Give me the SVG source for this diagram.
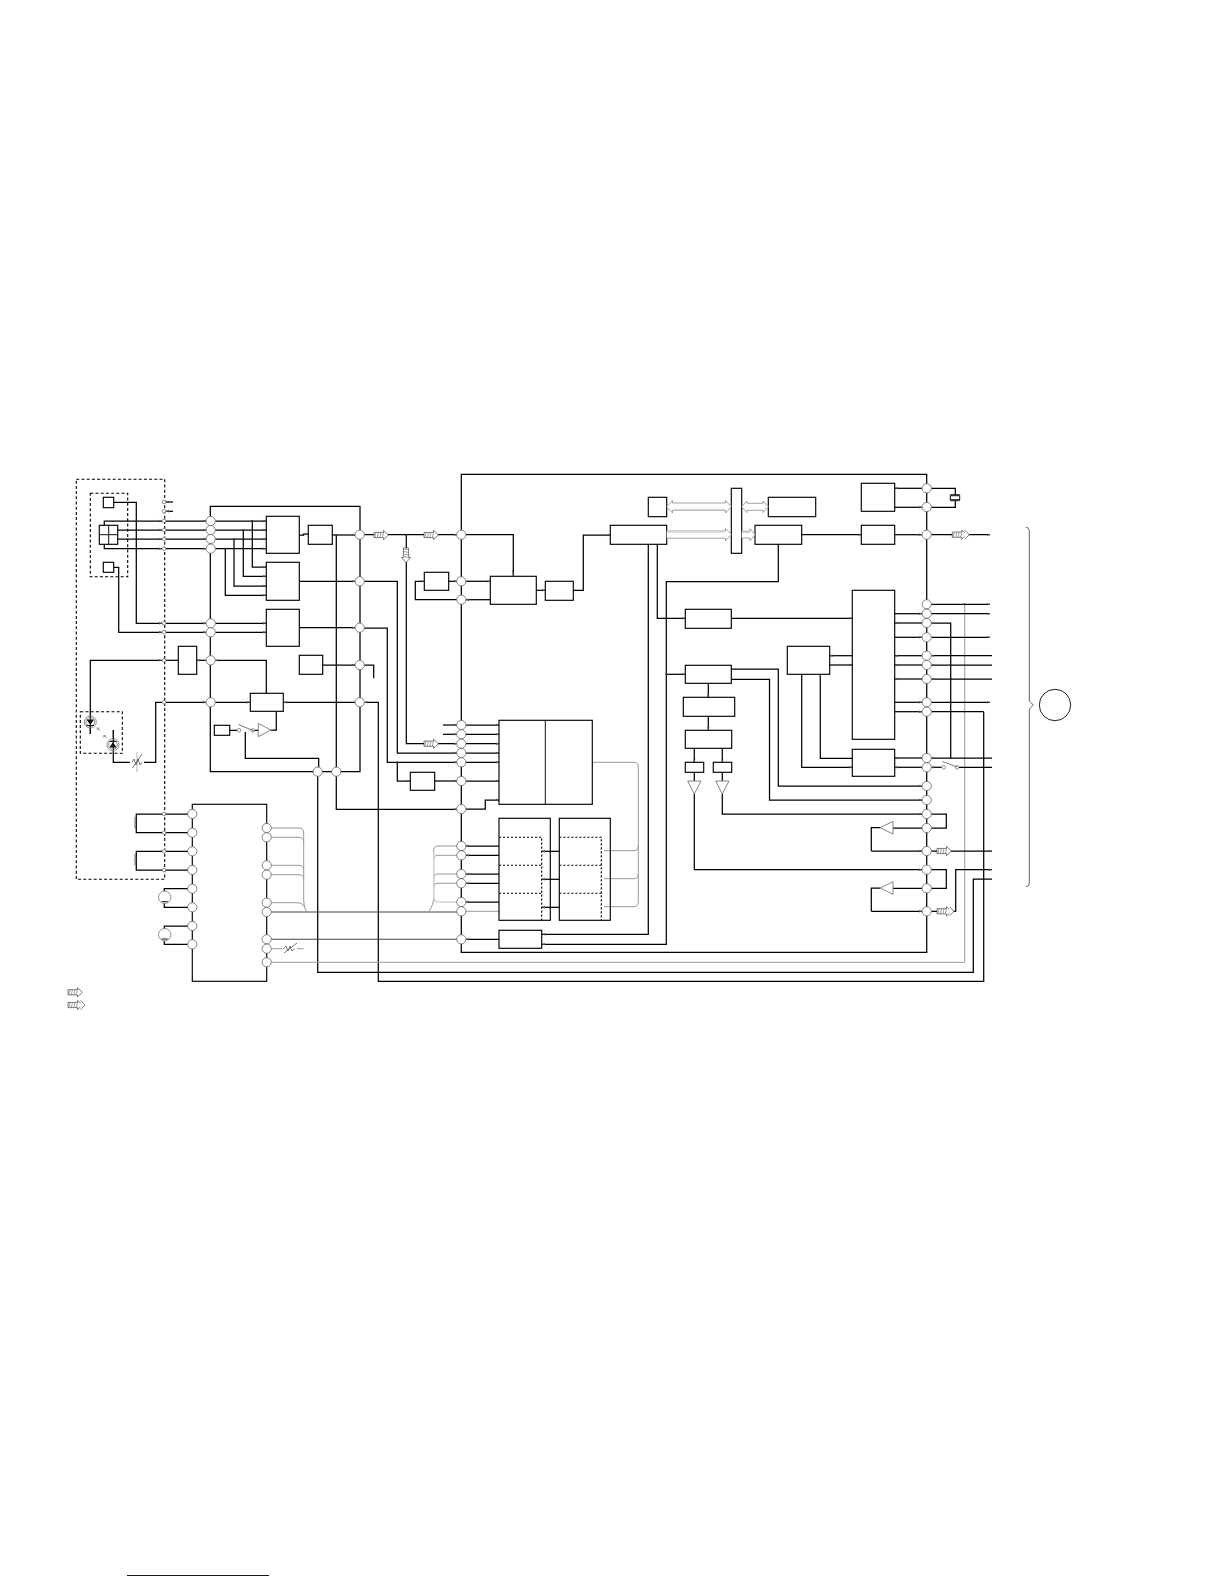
<svg xmlns="http://www.w3.org/2000/svg" xmlns:xlink="http://www.w3.org/1999/xlink" width="1224" height="1584" viewBox="0 0 1224 1584">
<style>
rect.b{fill:none;stroke:#000;stroke-width:1.15}
path{fill:none}
.c path{stroke:#000;stroke-width:1.25}
.c path.ar{marker-end:url(#a)}
.c path.g{stroke:#999;stroke-width:1}
.c path.dg{stroke:#444;stroke-width:1.1}
.c path.lg{stroke:#d4d4d4;stroke-width:1.6}
circle.p{fill:#fff;stroke:#666;stroke-width:.8}
circle.s{fill:#fff;stroke:#666;stroke-width:.7}
circle.d{fill:#333}
.ds{stroke:#000;stroke-width:1.1;stroke-dasharray:3 2.2;fill:none}
.ds2{stroke:#000;stroke-width:1.1;stroke-dasharray:2.2 1.8;fill:none}
.tri{fill:#fff;stroke:#777;stroke-width:.9}
.ga{fill:#fff;stroke:#999;stroke-width:.9}
.th{stroke:#111;stroke-width:1;fill:none}
.lt{stroke:#555;stroke-width:.8;fill:none}
.ha{fill:#fff;stroke:#444;stroke-width:.7}
.hat{stroke:#777;stroke-width:.7;fill:none}
</style>
<defs>
<marker id="a" markerUnits="userSpaceOnUse" markerWidth="4" markerHeight="4" refX="3" refY="2" orient="auto"><path d="M0 .8L3 2L0 3.2z" style="fill:#555;stroke:none"/></marker>
<g id="ha1"><path class="ha" d="M0-2.6H9.5V-4.6L14.5 0L9.5 4.6V2.6H0z"/><path class="hat" d="M2-2.6L.8 2.6M4.5-2.6L3.3 2.6M7-2.6L5.8 2.6M9.5-2.6L8.3 2.6"/></g>
<g id="ha2"><use xlink:href="#ha1"/><path class="ha" d="M12.5-4.6L17 0L12.5 4.6"/></g>
</defs>

<g id="connectors" class="c">
<path class="ar" d="M113.7 502.3H136.3V623.3H162"/><path class="ar" d="M166 623.3H206"/><path class="ar" d="M215.3 623.3H266"/>
<path class="ar" d="M113.7 567.3H118.7V632.3H162"/><path class="ar" d="M166 632.3H206"/><path class="ar" d="M215.3 632.3H266"/>
<path class="ar" d="M173 502H166"/><path class="ar" d="M173 511.3H166"/>
<path class="ar" d="M104.3 525.3V521H162"/><path class="ar" d="M166 521H206"/><path class="ar" d="M215.3 521H266"/>
<path class="ar" d="M117.7 530H162"/><path class="ar" d="M166 530H206"/><path class="ar" d="M215.3 530H266"/>
<path class="ar" d="M117.7 539H162"/><path class="ar" d="M166 539H206"/><path class="ar" d="M215.3 539H266"/>
<path class="ar" d="M104.3 544.3V548.7H162"/><path class="ar" d="M166 548.7H206"/><path class="ar" d="M215.3 548.7H266"/>
<path class="ar" d="M252.3 521V567H266"/><path class="ar" d="M243.3 530V576.3H266"/><path class="ar" d="M234 539V586H266"/><path class="ar" d="M225.3 548.7V595.3H266"/>
<path class="ar" d="M299.3 535H303.5V534H308"/><path class="ar" d="M332.3 535H355"/>
<path class="ar" d="M336.3 535V809.3H457"/>
<path class="ar" d="M299.3 581.3H355"/><path class="ar" d="M299.3 627.7H355"/><path class="ar" d="M322.7 665H355"/>
<path d="M364.3 665H373.7V678.3"/>
<path d="M210.3 521V771.7H360V506.3H210.3V521"/>
<path class="ar" d="M90.3 716V660.3H162"/><path d="M90.3 716V734"/>
<path d="M166 660.3H178.3"/><path class="ar" d="M206 660.3H197"/>
<path class="ar" d="M266.3 693.3V660.3H215.3"/>
<path d="M113.3 750V762.3H130M144 762.3H155.7V702.3H162"/><path d="M113.3 730V750"/>
<path class="ar" d="M166 702.3H206"/><path class="ar" d="M215.3 702.3H250"/>
<path class="ar" d="M355 702.3H283.6"/>
<path class="ar" d="M983.7 711.7V981.3H378.3V702.3H364.6"/>
<path d="M992 879H973.3V972.3H317.7V771.7"/>
<path class="g" d="M271.3 962.3H964.7V604.3"/>
<path d="M229.7 730.3H237M254.5 730.3H258.3M270.7 730H276.3V712"/>
<path d="M245.3 732V758.3H318.7V767"/>
<path d="M461.3 474.3H926.7V952.3H461.3z"/>
<path class="ar" d="M364.3 534.7H457"/>
<path d="M465.9 534.7H513.3V572"/>
<path class="ar" d="M513.3 570V576"/>
<path d="M406.3 535V561"/>
<path class="ar" d="M406.3 561V743.7H457"/>
<path class="ar" d="M364.3 581.3H397.3V753H457"/>
<path class="ar" d="M364.3 628H387.3V762.3H457"/>
<path class="ar" d="M397.3 762.3V781H410.3"/>
<path class="ar" d="M434.7 781H457"/><path class="ar" d="M466 781H499"/>
<path class="ar" d="M443 725H457"/><path class="ar" d="M443 734.3H457"/>
<path class="ar" d="M466 725H499"/><path class="ar" d="M466 734.3H499"/><path class="ar" d="M466 743.7H499"/><path class="ar" d="M466 753H499"/><path class="ar" d="M466 762.3H499"/>
<path class="ar" d="M465.9 809H485.3V800H499"/>
<path class="ar" d="M448.7 581.3H457"/><path class="ar" d="M466 581.3H490.3"/>
<path class="ar" d="M490.3 599.7H466"/>
<path class="ar" d="M457 599.7H415.3V581.3H424.3"/>
<path class="ar" d="M536.3 590.3H545.3"/>
<path class="ar" d="M573.3 590.3H583.3V535H610.3"/>
<path class="ar" d="M499 846H466"/><path class="ar" d="M499 855.3H466"/><path class="ar" d="M499 874H466"/><path class="ar" d="M499 883.3H466"/><path class="ar" d="M499 902H466"/>
<path class="g" d="M499 911.3H466"/>
<path class="dg" d="M271.3 912H457"/>
<path class="dg" d="M271.3 939.3H457"/>
<path class="ar" d="M499 939.3H466"/>
<path class="g" d="M457 846H438Q433.7 846 433.7 851V896Q433.7 905 429 911.3"/>
<path class="g" d="M457 855.3H438Q433.7 855.3 433.7 860"/>
<path class="g" d="M457 874H438Q433.7 874 433.7 879"/>
<path class="g" d="M457 883.3H438Q433.7 883.3 433.7 888"/>
<path class="lg" d="M457 902H438Q433.7 902 433.7 896V852"/>
<path class="ar" d="M559.3 851.3H542"/>
<path class="ar" d="M559.3 879.3H542"/><path class="ar" d="M559.3 907.3H542"/>
<path class="g" d="M592.3 762.3H634Q638.3 762.3 638.3 767V902Q638.3 906.7 634 906.7H604"/>
<path class="g" d="M638.3 846Q638.3 850.7 634 850.7H604"/><path class="g" d="M638.3 874Q638.3 878.7 634 878.7H604"/>
<path class="ar" d="M648.3 544.3V934.3H542"/>
<path class="ar" d="M778.3 544.3V581.7H666.3V944.3H542"/>
<path class="ar" d="M657.3 544.3V618.3H685.3"/>
<path class="ar" d="M731.3 618.3H852.3"/>
<path class="ar" d="M666.3 674.3H685.3"/>
<path class="ar" d="M708.3 683.3V697.3"/><path class="ar" d="M708.3 716.3V730.3"/>
<path class="ar" d="M694.3 748.3V762.3"/><path class="ar" d="M722.3 748.3V762.3"/>
<path d="M694.3 772.3V781M722.3 772.3V781"/>
<path class="ar" d="M694.3 794V869.7H922"/>
<path class="ar" d="M722.3 794V814H922"/>
<path class="ar" d="M731.3 669H778.3V786H922"/>
<path class="ar" d="M731.3 679.3H769.5V800H922"/>
<path class="ar" d="M801.7 534.7H861.3"/>
<path class="ar" d="M894.7 534.7H922"/><path class="ar" d="M931.3 534.7H990"/>
<path class="ar" d="M922 488.3H894.7"/><path class="ar" d="M894.7 507.3H922"/>
<path d="M931.3 488.3H955.3V494.7M955.3 500.7V507.3H931.3"/>
<path class="ar" d="M931.3 604.3H990"/>
<path class="ar" d="M894.7 613.7H922"/><path class="ar" d="M931.3 613.7H990"/>
<path class="ar" d="M950.7 758V623H931.3"/><path class="ar" d="M922 623H894.7"/>
<path class="ar" d="M894.7 637.3H922"/><path class="ar" d="M931.3 637.3H990"/>
<path class="ar" d="M992 655.7H931.3"/><path class="ar" d="M922 655.7H894.7"/>
<path class="ar" d="M992 665H931.3"/><path class="ar" d="M922 665H894.7"/>
<path class="ar" d="M992 679H931.3"/><path class="ar" d="M922 679H894.7"/>
<path class="ar" d="M894.7 702.3H922"/><path class="ar" d="M931.3 702.3H990"/>
<path class="ar" d="M894.7 711.7H922"/><path d="M931.3 711.7H983.7"/>
<path class="ar" d="M852.3 655.7H829.7"/><path class="ar" d="M829.7 665H852.3"/>
<path class="ar" d="M801.7 674.3V767.3H852.3"/>
<path class="ar" d="M852.3 758.3H820.3V674.3"/>
<path class="ar" d="M922 758H894.7"/><path class="ar" d="M922 767.3H894.7"/>
<path class="ar" d="M992 758H931.3"/>
<path class="ar" d="M941.7 767.3H931.3"/><path d="M992 767.3H959"/>
<path d="M931.3 814H946.3V828H931.3"/>
<path d="M922 828H893M880.3 827.7H871.3V851"/><path class="ar" d="M871.3 851H922"/>
<path class="ar" d="M931.3 851H992"/>
<path d="M931.3 869.7H946.3V888.3H931.3"/>
<path d="M922 888.3H893M880.3 888H871.3V911.3"/><path class="ar" d="M871.3 911.3H922"/>
<path class="ar" d="M931.3 911.3H955.7V869.7H992"/>
<path class="g" d="M271.3 828H299Q303.7 828 303.7 833V900Q303.7 908 306.7 912"/>
<path class="g" d="M271.3 837.3H299Q303.7 837.3 303.7 842"/>
<path class="g" d="M271.3 865.3H299Q303.7 865.3 303.7 870"/>
<path class="g" d="M271.3 874.7H299Q303.7 874.7 303.7 879"/>
<path class="g" d="M271.3 902.7H296Q303 902.7 304.5 907"/>
<path class="g" d="M271.3 948.7H282M297 948.7H303.7"/>
<path d="M188 814H136.3V832.7H188"/><path d="M188 851.3H136.3V870H188"/>
<path d="M188 888.7H164.3V891.3M164.3 903.3V907.3H188"/>
<path d="M188 926H164.3V928.7M164.3 940.7V944.3H188"/>
</g>

<g id="dashed-module"><rect class="ds" x="76.3" y="479.3" width="88.4" height="400"/></g>
<g id="dashed-head"><rect class="ds" x="90.3" y="493.3" width="37.4" height="83.4"/></g>
<g id="dashed-laser"><rect class="ds" x="80.3" y="711.7" width="42" height="41.6"/></g>

<g id="n-coil1"><path class="lt" d="M136.3 817c-2.5 0-2.5 3 0 3c-2.5 0-2.5 3 0 3c-2.5 0-2.5 3 0 3c-2.5 0-2 2.5 0 2.5"/></g>
<g id="n-coil2"><path class="lt" d="M136.3 854c-2.5 0-2.5 3 0 3c-2.5 0-2.5 3 0 3c-2.5 0-2.5 3 0 3c-2.5 0-2 2.5 0 2.5"/></g>
<g id="n-sq1"><rect class="b" x="103.3" y="497.3" width="10.4" height="10.4"/></g>
<g id="n-sq2"><rect class="b" x="103.3" y="562.3" width="10.4" height="10"/></g>
<g id="n-quad"><rect class="b" x="99.3" y="525.3" width="18.4" height="19"/><path class="th" d="M108.7 525.3V544.3M99.3 534.7H117.7"/></g>
<g id="n-a1"><rect class="b" x="266.3" y="516.3" width="33" height="37"/></g>
<g id="n-a2"><rect class="b" x="266.3" y="562.3" width="33" height="38"/></g>
<g id="n-a3"><rect class="b" x="266.3" y="609.3" width="33" height="37"/></g>
<g id="n-a4"><rect class="b" x="308.3" y="525.3" width="24" height="19"/></g>
<g id="n-s"><rect class="b" x="178.3" y="646.3" width="18.4" height="28"/></g>
<g id="n-t"><rect class="b" x="250.3" y="693.3" width="33" height="18"/></g>
<g id="n-u"><rect class="b" x="214.3" y="725.3" width="15.4" height="10"/></g>
<g id="n-v"><rect class="b" x="299.3" y="655.3" width="23.4" height="19"/></g>
<g id="n-sw1"><circle class="s" cx="239" cy="730.3" r="1.8"/><circle class="s" cx="252.7" cy="730.3" r="1.8"/><path class="lt" d="M238.3 724.5L254.3 731"/></g>
<g id="n-amp1"><path class="tri" d="M258.3 723.3V736.7L270.7 730z"/></g>
<g id="n-ld">
<circle class="s" cx="90.3" cy="722" r="6"/><circle class="s" cx="90.3" cy="722" r="4.4"/><path d="M86.5 719.5H94L90.3 725z" style="fill:#111"/><path class="th" d="M86.5 725.5H94M90.3 716V734"/>
<path class="lt" d="M97 727.5L100 730.5M96.5 730L99 727.5M103.5 735L106.5 738M103 737.5L105.5 735"/>
</g>
<g id="n-pd">
<circle class="s" cx="113" cy="744.7" r="6"/><circle class="s" cx="113" cy="744.7" r="4.4"/><path d="M109.5 747.5H116.5L113 742z" style="fill:#111"/><path class="th" d="M109.5 741.5H116.5M113.3 730V750"/>
</g>
<g id="n-vr"><path d="M137 752V772" style="stroke:#aaa;stroke-width:.9;fill:none"/><path class="lt" d="M132.5 768L142 754M132 762.3L134 759L136 765L138 759L140 765L142 762.3"/></g>

<g id="n-driver"><rect class="b" x="192.3" y="804.3" width="74.4" height="177"/></g>
<g id="n-m1"><circle class="s" cx="164.7" cy="897.3" r="6.2"/><path class="th" d="M161.7 901.7H167.7"/></g>
<g id="n-m2"><circle class="s" cx="164.7" cy="934.7" r="6.2"/><path class="th" d="M161.7 939H167.7"/></g>
<g id="n-vr2"><path class="lt" d="M284 953L297 943M283.5 948.7L286 946L288 951L290 946L292 951L294.5 948.7"/></g>

<g id="n-p"><rect class="b" x="490.3" y="576.3" width="46" height="28"/></g>
<g id="n-q"><rect class="b" x="545.3" y="581.3" width="28" height="19"/></g>
<g id="n-r"><rect class="b" x="424.3" y="572.3" width="24.4" height="18"/></g>
<g id="n-w"><rect class="b" x="410.3" y="772.3" width="24.4" height="18"/></g>
<g id="n-boxa"><rect class="b" x="499" y="720.3" width="93.3" height="84"/><path class="th" d="M545.3 720.3V804.3"/></g>
<g id="n-boxb"><rect class="b" x="499" y="818.3" width="51.3" height="102"/><path class="ds2" d="M499 837.3H541.7V920.3M499 865.3H541.7M499 893.3H541.7"/></g>
<g id="n-boxc"><rect class="b" x="559.3" y="818.3" width="51" height="102"/><path class="ds2" d="M559.3 837.3H601.3V920.3M559.3 865.3H601.3M559.3 893.3H601.3"/></g>
<g id="n-boxd"><rect class="b" x="499" y="930.3" width="42.7" height="18"/></g>
<g id="n-e"><rect class="b" x="610.3" y="525.3" width="56.4" height="19"/></g>
<g id="n-l"><rect class="b" x="648.3" y="497.3" width="18.4" height="19.4"/></g>
<g id="n-bar"><rect class="b" x="731.3" y="488.3" width="10.4" height="65"/></g>
<g id="n-m"><rect class="b" x="768.3" y="497.3" width="47.4" height="19.4"/></g>
<g id="n-n2"><rect class="b" x="755" y="525.3" width="46.7" height="19"/></g>
<g id="n-j"><rect class="b" x="861.3" y="483.3" width="33.4" height="28"/></g>
<g id="n-k"><rect class="b" x="861.3" y="525.3" width="33.4" height="19"/></g>
<g id="n-xtal"><rect class="th" x="950.3" y="495.7" width="9.4" height="4"/><path class="th" d="M950.3 494.7H959.7M950.3 500.7H959.7"/></g>
<g id="n-f"><rect class="b" x="685.3" y="609.3" width="46" height="19"/></g>
<g id="n-g"><rect class="b" x="685.3" y="665.3" width="46" height="18"/></g>
<g id="n-h"><rect class="b" x="683.3" y="697.3" width="51.4" height="19"/></g>
<g id="n-i"><rect class="b" x="685.3" y="730.3" width="46.4" height="18"/></g>
<g id="n-i1"><rect class="b" x="685.3" y="762.3" width="18.4" height="10"/></g>
<g id="n-i2"><rect class="b" x="713.3" y="762.3" width="18.4" height="10"/></g>
<g id="n-chip"><rect class="b" x="852.3" y="590.3" width="42.4" height="149"/></g>
<g id="n-nn"><rect class="b" x="787.3" y="646.3" width="42.4" height="28"/></g>
<g id="n-o"><rect class="b" x="852.3" y="749.3" width="42.4" height="27"/></g>
<g id="n-tr1"><path class="tri" d="M687.7 781H701L694.3 794z"/></g>
<g id="n-tr2"><path class="tri" d="M715.7 781H729L722.3 794z"/></g>
<g id="n-tr3"><path class="tri" d="M880.3 827.7L893 821.3V834z"/></g>
<g id="n-tr4"><path class="tri" d="M880.3 888L893 881.7V894.3z"/></g>
<g id="n-sw2"><circle class="s" cx="943.7" cy="767.3" r="1.8"/><circle class="s" cx="957" cy="767.3" r="1.8"/><path class="lt" d="M942.5 761.5L957 767"/></g>

<g id="bus">
<path class="ga" d="M666.7 506.7L672.5 500.5V503H725.5V500.5L731.3 506.7L725.5 513V510.3H672.5V513z"/><path d="M673 509.5H725" style="stroke:#d8d8d8;stroke-width:1.6;fill:none"/>
<path class="ga" d="M741.7 506.7L747 501V503.3H763V501L768.3 506.7L763 512.5V510.3H747V512.5z"/>
<path class="ga" d="M666.7 531H725.5V528.5L731.3 534.7L725.5 541V538.2H666.7"/><path d="M667 532H725" style="stroke:#d8d8d8;stroke-width:1.6;fill:none"/>
<path class="ga" d="M741.7 531.3H750V528.7L755 534.7L750 540.7V538H741.7"/><path d="M742 532.5H750" style="stroke:#d8d8d8;stroke-width:1.4;fill:none"/>
</g>

<g id="pins">
<g>
<circle class="s" cx="164" cy="502" r="1.8"/><circle class="s" cx="164" cy="511.3" r="1.8"/><circle class="s" cx="164" cy="521" r="1.8"/><circle class="s" cx="164" cy="530" r="1.8"/><circle class="s" cx="164" cy="539" r="1.8"/><circle class="s" cx="164" cy="548.7" r="1.8"/><circle class="s" cx="164" cy="623.3" r="1.8"/><circle class="s" cx="164" cy="632.3" r="1.8"/><circle class="s" cx="164" cy="660.3" r="1.8"/><circle class="s" cx="164" cy="702.3" r="1.8"/><circle class="s" cx="164" cy="814" r="1.8"/><circle class="s" cx="164" cy="832.7" r="1.8"/><circle class="s" cx="164" cy="851.3" r="1.8"/><circle class="s" cx="164" cy="870" r="1.8"/>
</g>
<g>
<circle class="p" cx="210.7" cy="521" r="4.6"/><circle class="p" cx="210.7" cy="530" r="4.6"/><circle class="p" cx="210.7" cy="539" r="4.6"/><circle class="p" cx="210.7" cy="548.7" r="4.6"/><circle class="p" cx="210.7" cy="623.3" r="4.6"/><circle class="p" cx="210.7" cy="632.3" r="4.6"/><circle class="p" cx="210.7" cy="660.3" r="4.6"/><circle class="p" cx="210.7" cy="702.3" r="4.6"/>
<circle class="p" cx="359.7" cy="534.7" r="4.6"/><circle class="p" cx="359.7" cy="581.3" r="4.6"/><circle class="p" cx="359.7" cy="627.7" r="4.6"/><circle class="p" cx="359.7" cy="665" r="4.6"/><circle class="p" cx="359.7" cy="702.3" r="4.6"/>
<circle class="p" cx="317.7" cy="771.7" r="4.6"/><circle class="p" cx="336.3" cy="771.7" r="4.6"/>
</g>
<g>
<circle class="p" cx="192.3" cy="814" r="4.6"/><circle class="p" cx="192.3" cy="832.7" r="4.6"/><circle class="p" cx="192.3" cy="851.3" r="4.6"/><circle class="p" cx="192.3" cy="870" r="4.6"/><circle class="p" cx="192.3" cy="888.7" r="4.6"/><circle class="p" cx="192.3" cy="907.3" r="4.6"/><circle class="p" cx="192.3" cy="926" r="4.6"/><circle class="p" cx="192.3" cy="944.3" r="4.6"/>
<circle class="p" cx="266.7" cy="828" r="4.6"/><circle class="p" cx="266.7" cy="837.3" r="4.6"/><circle class="p" cx="266.7" cy="865.3" r="4.6"/><circle class="p" cx="266.7" cy="874.7" r="4.6"/><circle class="p" cx="266.7" cy="902.7" r="4.6"/><circle class="p" cx="266.7" cy="912" r="4.6"/><circle class="p" cx="266.7" cy="939.3" r="4.6"/><circle class="p" cx="266.7" cy="948.7" r="4.6"/><circle class="p" cx="266.7" cy="962.3" r="4.6"/>
</g>
<g>
<circle class="p" cx="461.3" cy="534.7" r="4.6"/><circle class="p" cx="461.3" cy="581.3" r="4.6"/><circle class="p" cx="461.3" cy="599.7" r="4.6"/><circle class="p" cx="461.3" cy="725" r="4.6"/><circle class="p" cx="461.3" cy="734.3" r="4.6"/><circle class="p" cx="461.3" cy="743.7" r="4.6"/><circle class="p" cx="461.3" cy="753" r="4.6"/><circle class="p" cx="461.3" cy="762.3" r="4.6"/><circle class="p" cx="461.3" cy="781" r="4.6"/><circle class="p" cx="461.3" cy="809" r="4.6"/><circle class="p" cx="461.3" cy="846" r="4.6"/><circle class="p" cx="461.3" cy="855.3" r="4.6"/><circle class="p" cx="461.3" cy="874" r="4.6"/><circle class="p" cx="461.3" cy="883.3" r="4.6"/><circle class="p" cx="461.3" cy="902" r="4.6"/><circle class="p" cx="461.3" cy="911.3" r="4.6"/><circle class="p" cx="461.3" cy="939.3" r="4.6"/>
</g>
<g>
<circle class="p" cx="926.7" cy="488.3" r="4.6"/><circle class="p" cx="926.7" cy="507" r="4.6"/><circle class="p" cx="926.7" cy="534.7" r="4.6"/><circle class="p" cx="926.7" cy="604.3" r="4.6"/><circle class="p" cx="926.7" cy="613.7" r="4.6"/><circle class="p" cx="926.7" cy="623" r="4.6"/><circle class="p" cx="926.7" cy="637.3" r="4.6"/><circle class="p" cx="926.7" cy="655.7" r="4.6"/><circle class="p" cx="926.7" cy="665" r="4.6"/><circle class="p" cx="926.7" cy="679" r="4.6"/><circle class="p" cx="926.7" cy="702.3" r="4.6"/><circle class="p" cx="926.7" cy="711.7" r="4.6"/><circle class="p" cx="926.7" cy="758" r="4.6"/><circle class="p" cx="926.7" cy="767.3" r="4.6"/><circle class="p" cx="926.7" cy="786" r="4.6"/><circle class="p" cx="926.7" cy="800" r="4.6"/><circle class="p" cx="926.7" cy="814" r="4.6"/><circle class="p" cx="926.7" cy="828" r="4.6"/><circle class="p" cx="926.7" cy="851" r="4.6"/><circle class="p" cx="926.7" cy="869.7" r="4.6"/><circle class="p" cx="926.7" cy="888.3" r="4.6"/><circle class="p" cx="926.7" cy="911.3" r="4.6"/>
</g>
<g>
<circle class="d" cx="252.3" cy="521" r="1"/><circle class="d" cx="243.3" cy="530" r="1"/><circle class="d" cx="234" cy="539" r="1"/><circle class="d" cx="225.3" cy="548.7" r="1"/><circle class="d" cx="336.3" cy="535" r="1"/><circle class="d" cx="406.3" cy="535" r="1"/><circle class="d" cx="397.3" cy="762.3" r="1"/><circle class="d" cx="950.7" cy="758" r="1"/><circle class="d" cx="964.7" cy="604.3" r="1"/><circle class="d" cx="666.3" cy="674.3" r="1"/>
</g>
</g>

<g id="flow-arrows">
<use xlink:href="#ha1" x="374" y="535"/><use xlink:href="#ha1" x="424" y="535"/>
<use xlink:href="#ha1" transform="translate(406 548) rotate(90)"/>
<use xlink:href="#ha1" x="424" y="743.7"/>
<use xlink:href="#ha2" x="952.3" y="534.7"/>
<use xlink:href="#ha1" x="937" y="851"/><use xlink:href="#ha2" x="937" y="911.3"/>
<use xlink:href="#ha1" x="68" y="992.3"/><use xlink:href="#ha2" x="68" y="1005"/>
</g>

<g id="brace"><path d="M1026 527.3Q1029.3 527.3 1029.3 531V701L1033.3 705L1029.3 709V883Q1029.3 886.7 1026 886.7" style="stroke:#666;stroke-width:1;fill:none"/></g>
<g id="n-circle"><circle cx="1055" cy="705" r="15.7" style="fill:#fff;stroke:#222;stroke-width:1"/></g>
<path d="M127 1575.5H269" style="stroke:#0a0a90;stroke-width:1;fill:none"/>
</svg>
